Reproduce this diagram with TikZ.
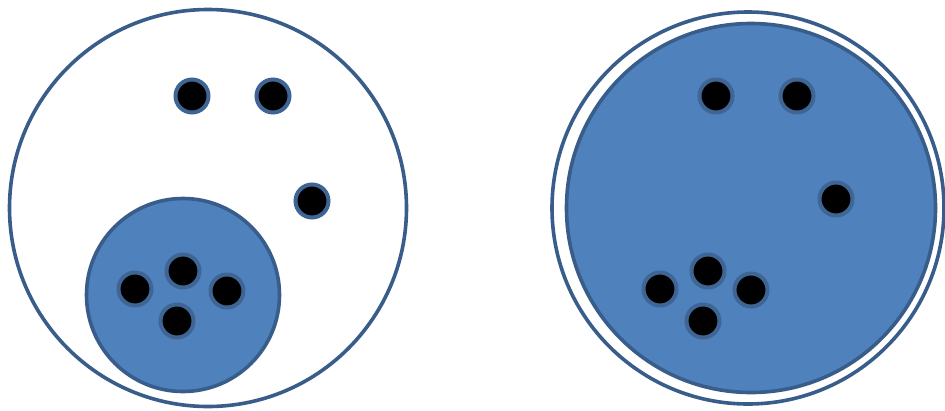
\documentclass[tikz,border=0pt]{standalone}
\definecolor{fillblue}{HTML}{4F81BD}
\definecolor{edgeblue}{HTML}{385D8A}
\definecolor{dotedge}{HTML}{3F6594}
\begin{document}
\begin{tikzpicture}[x=1pt,y=-1pt,
  ring/.style={circle,draw=edgeblue,line width=3.6pt,inner sep=0pt,minimum size=#1},
  dot/.style={circle,fill=black,draw=dotedge,line width=4pt,inner sep=0pt,minimum size=33pt}]
\useasboundingbox (0,0) rectangle (945,410);
% left
\node[ring=397pt,fill=white] (L) at (208,208) {};
\node[ring=193pt,fill=fillblue] (Lin) at (183,295) {};
\node[dot] (l1) at (192,96) {};
\node[dot] (l2) at (273,96) {};
\node[dot] (l3) at (312,201) {};
\node[dot] (l4) at (135,289) {};
\node[dot] (l5) at (183,271) {};
\node[dot] (l6) at (227,291) {};
\node[dot] (l7) at (177,321) {};
% right
\node[ring=392pt,fill=white] (R) at (748,208) {};
\node[ring=369pt,fill=fillblue] (Rin) at (751,208) {};
\node[dot] (r1) at (716,96) {};
\node[dot] (r2) at (797,96) {};
\node[dot] (r3) at (836,199) {};
\node[dot] (r4) at (660,289) {};
\node[dot] (r5) at (708,271) {};
\node[dot] (r6) at (751,290) {};
\node[dot] (r7) at (703,321) {};
\end{tikzpicture}
\end{document}
